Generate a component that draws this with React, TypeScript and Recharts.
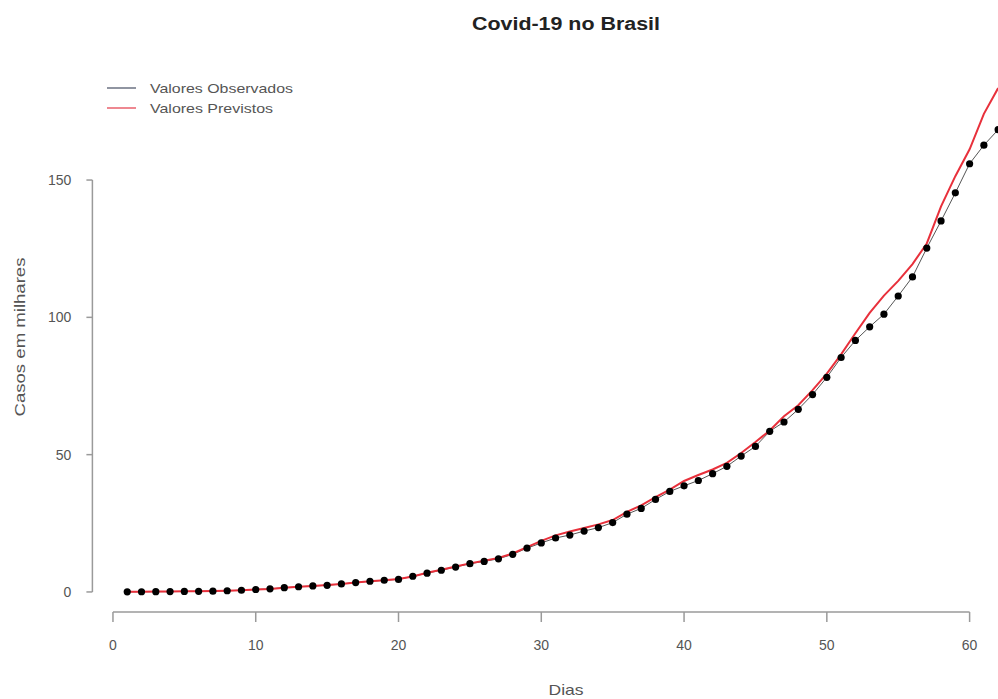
import React from 'react';
import { ComposedChart, Line, XAxis, YAxis, ReferenceLine } from 'recharts';

// dias da serie (1 = primeiro dia observado)
const dias = [
  1, 2, 3, 4, 5, 6, 7, 8, 9, 10,
  11, 12, 13, 14, 15, 16, 17, 18, 19, 20,
  21, 22, 23, 24, 25, 26, 27, 28, 29, 30,
  31, 32, 33, 34, 35, 36, 37, 38, 39, 40,
  41, 42, 43, 44, 45, 46, 47, 48, 49, 50,
  51, 52, 53, 54, 55, 56, 57, 58, 59, 60,
  61, 62,
];

// casos acumulados observados (milhares)
const observados = [
  0.05, 0.08, 0.1, 0.12, 0.2, 0.23, 0.29, 0.43, 0.62, 0.9,
  1.13, 1.55, 1.89, 2.2, 2.43, 2.92, 3.42, 3.9, 4.26, 4.58,
  5.72, 6.84, 7.91, 9.06, 10.28, 11.13, 12.06, 13.72, 15.93, 17.86,
  19.64, 20.73, 22.17, 23.43, 25.26, 28.32, 30.43, 33.68, 36.6, 38.65,
  40.58, 43.08, 45.76, 49.49, 53.0, 58.51, 61.89, 66.5, 71.89, 78.16,
  85.38, 91.59, 96.56, 101.15, 107.78, 114.72, 125.22, 135.11, 145.33, 155.94,
  162.7, 168.33,
];

// valores previstos pelo modelo (milhares)
const previstos = [
  0.1, 0.1, 0.15, 0.2, 0.25, 0.3, 0.35, 0.45, 0.6, 0.85,
  1.1, 1.5, 1.9, 2.2, 2.5, 2.9, 3.4, 3.9, 4.3, 4.7,
  5.6, 7.0, 8.1, 9.3, 10.4, 11.4, 12.4, 14.0, 16.3, 18.6,
  20.6, 22.0, 23.3, 24.6, 26.2, 29.2, 31.5, 34.5, 37.3, 40.4,
  42.6, 44.6, 47.0, 50.6, 54.6, 58.8, 64.0, 68.0, 73.5, 79.5,
  86.5, 94.2, 101.6, 107.9, 113.3, 119.4, 126.9, 140.4, 151.4, 161.2,
  174.1, 183.5,
];

const ticksX = [0, 10, 20, 30, 40, 50, 60];
const ticksY = [0, 50, 100, 150];

const data = dias.map((d, i) => ({ dia: d, obs: observados[i], prev: previstos[i] }));

const FONT = '"Liberation Sans", Arial, sans-serif';
const AXIS = '#9a9a9a';

// R-style plot region: 4% padding around the data range
const xMin = -1.44;
const xMax = 64.44;
const yMin = -7.3;
const yMax = 190.8;

export default function App() {
  return (
    <div style={{ position: 'absolute', left: 0, top: 0, width: 998, height: 699, overflow: 'hidden', background: '#fff' }}>
      <ComposedChart
        width={1040}
        height={699}
        data={data}
        margin={{ top: 68, right: 7, left: 0, bottom: 0 }}
        style={{ fontFamily: FONT }}
      >
        <XAxis
          dataKey="dia"
          type="number"
          domain={[xMin, xMax]}
          ticks={ticksX}
          height={87}
          axisLine={false}
          tickLine={{ stroke: AXIS, strokeWidth: 1.5 }}
          tickSize={10}
          tickMargin={18}
          tick={{ fontSize: 14, fill: '#555', fontFamily: FONT }}
          interval={0}
        />
        <YAxis
          type="number"
          domain={[yMin, yMax]}
          ticks={ticksY}
          width={92.4}
          axisLine={false}
          tickLine={{ stroke: AXIS, strokeWidth: 1.5 }}
          tickSize={6}
          tickMargin={15}
          tick={{ fontSize: 14, fill: '#555', fontFamily: FONT }}
          interval={0}
        />
        {/* eixos no estilo do R, so ate o ultimo tick */}
        <ReferenceLine segment={[{ x: 0, y: yMin }, { x: 60, y: yMin }]} stroke={AXIS} strokeWidth={1.5} ifOverflow="visible" />
        <ReferenceLine segment={[{ x: xMin, y: 0 }, { x: xMin, y: 150 }]} stroke={AXIS} strokeWidth={1.5} ifOverflow="visible" />
        <Line
          dataKey="obs"
          type="linear"
          stroke="#555"
          strokeWidth={1}
          dot={{ r: 3.6, fill: '#000', stroke: '#000', strokeWidth: 0 }}
          isAnimationActive={false}
        />
        <Line
          dataKey="prev"
          type="linear"
          stroke="#e8303b"
          strokeWidth={2}
          dot={false}
          isAnimationActive={false}
        />
      </ComposedChart>

      <svg width={998} height={699} style={{ position: 'absolute', left: 0, top: 0, pointerEvents: 'none', fontFamily: FONT }}>
        <text x={566} y={30} textAnchor="middle" fontSize={18} fontWeight="bold" fill="#222" textLength={188} lengthAdjust="spacingAndGlyphs">
          Covid-19 no Brasil
        </text>

        {/* legenda */}
        <line x1={107} x2={136} y1={88} y2={88} stroke="#6b7282" strokeWidth={1.5} />
        <line x1={107} x2={136} y1={108} y2={108} stroke="#e8606c" strokeWidth={1.5} />
        <text x={150} y={93} fontSize={13} fill="#555" textLength={143} lengthAdjust="spacingAndGlyphs">Valores Observados</text>
        <text x={150} y={113} fontSize={13} fill="#555" textLength={123} lengthAdjust="spacingAndGlyphs">Valores Previstos</text>

        {/* titulos dos eixos */}
        <text
          x={19}
          y={337}
          transform="rotate(-90 19 337)"
          textAnchor="middle"
          dominantBaseline="central"
          fontSize={15}
          fill="#555"
          textLength={159}
          lengthAdjust="spacingAndGlyphs"
        >
          Casos em milhares
        </text>
        <text x={566} y={695} textAnchor="middle" fontSize={15} fill="#555" textLength={35} lengthAdjust="spacingAndGlyphs">
          Dias
        </text>
      </svg>
    </div>
  );
}
